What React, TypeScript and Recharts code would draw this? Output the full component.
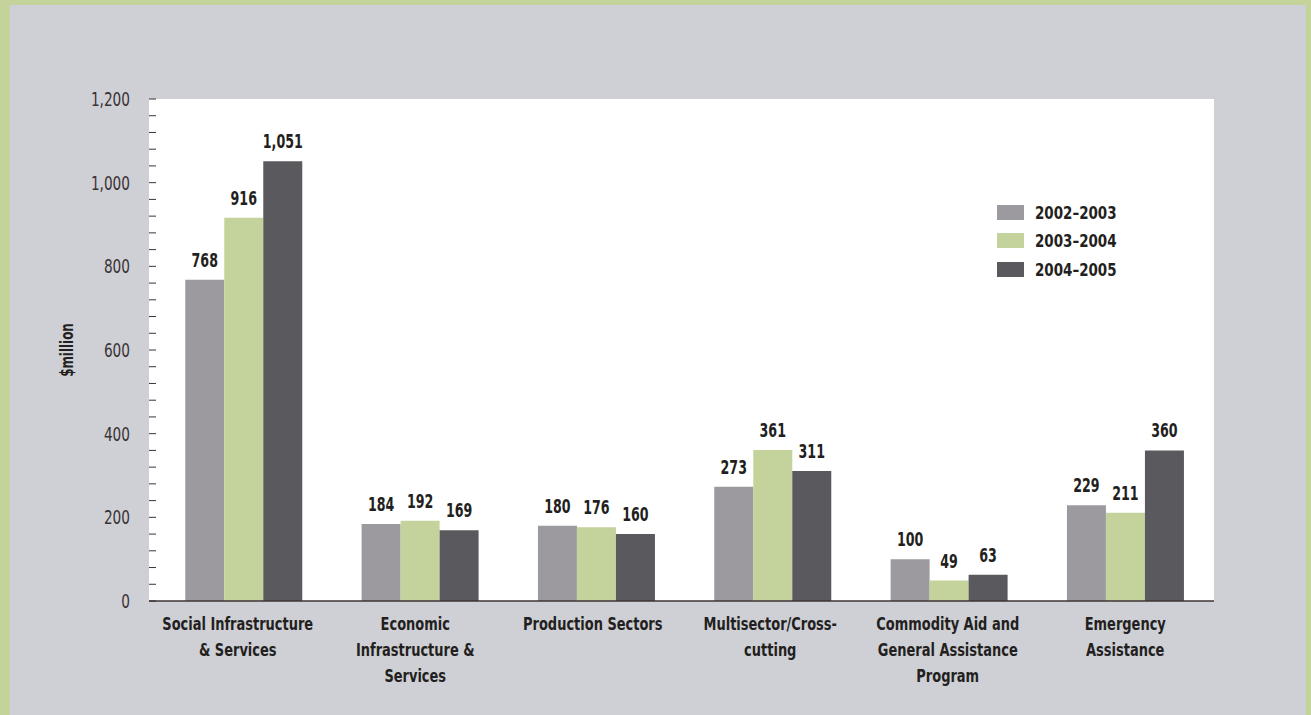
import { BarChart, Bar, XAxis, YAxis, CartesianGrid, Legend, LabelList } from "recharts"

const categories = [
  'Social Infrastructure\n& Services',
  'Economic\nInfrastructure &\nServices',
  'Production Sectors',
  'Multisector/Cross-\ncutting',
  'Commodity Aid and\nGeneral Assistance\nProgram',
  'Emergency\nAssistance',
]
const y2002 = [768, 184, 180, 273, 100, 229]
const y2003 = [916, 192, 176, 361, 49, 211]
const y2004 = [1051, 169, 160, 311, 63, 360]
const yTicks = [0, 40, 80, 120, 160, 200, 240, 280, 320, 360, 400, 440, 480, 520, 560, 600, 640, 680, 720, 760, 800, 840, 880, 920, 960, 1000, 1040, 1080, 1120, 1160, 1200]

const data = categories.map((name, i) => ({ name, a: y2002[i], b: y2003[i], c: y2004[i] }))

// no narrow font installed, so squeeze DejaVu Condensed horizontally
const FONT = '"Liberation Sans Narrow", "DejaVu Sans Condensed", sans-serif'
const SQ = 0.78
const TEXT = '#231f20'

const fmt = (v: number) => v.toLocaleString('en-US')

function YTick({ x, y, payload }: any) {
  const v = payload.value as number
  return (
    <g>
      <line x1={x} x2={x + 7} y1={y} y2={y} stroke="#3a3335" strokeWidth={1} />
      {v % 200 === 0 && (
        <g transform={`translate(${x - 19},${y}) scale(0.8,1)`}>
          <text x={0} y={0} dy="0.36em" textAnchor="end" fontSize={19} fill="#3a3335" fontFamily={FONT}>
            {fmt(v)}
          </text>
        </g>
      )}
    </g>
  )
}

function XTick({ x, y, payload }: any) {
  const lines = String(payload.value).split('\n')
  return (
    <g transform={`translate(${x},${y + 29}) scale(${SQ},1)`}>
      <text x={0} y={0} textAnchor="middle" fontSize={18.5} fontWeight="bold" fill={TEXT} fontFamily={FONT}>
        {lines.map((l, i) => (
          <tspan key={i} x={0} dy={i === 0 ? 0 : 26}>{l}</tspan>
        ))}
      </text>
    </g>
  )
}

function YLabel({ viewBox }: any) {
  const cx = viewBox.x + 18
  const cy = viewBox.y + viewBox.height / 2
  return (
    <g transform={`translate(${cx},${cy}) rotate(-90) scale(${SQ},1)`}>
      <text x={0} y={0} textAnchor="middle" dy="0.35em" fontSize={17} fontWeight="bold" fill={TEXT} fontFamily={FONT}>
        $million
      </text>
    </g>
  )
}

function BarValue({ x, y, width, value }: any) {
  return (
    <g transform={`translate(${x + width / 2},${y - 13}) scale(0.74,1)`}>
      <text x={0} y={0} textAnchor="middle" fontSize={19} fontWeight="bold" fill={TEXT} fontFamily={FONT}>
        {fmt(value)}
      </text>
    </g>
  )
}

function LegendBox({ payload }: any) {
  return (
    <div style={{ fontFamily: FONT }}>
      {(payload || []).map((p: any) => (
        <div key={p.value} style={{ display: 'flex', alignItems: 'center', height: 28.5 }}>
          <div style={{ width: 27, height: 15, background: p.color, marginRight: 11 }} />
          <span style={{ fontSize: 18, fontWeight: 'bold', color: TEXT, display: 'inline-block', transform: 'scale(0.83,1)', transformOrigin: 'left center', whiteSpace: 'nowrap' }}>{p.value}</span>
        </div>
      ))}
    </div>
  )
}

function App() {
  return (
    <div style={{ position: 'absolute', left: 0, top: 0, width: 1311, height: 715, background: '#cfd0d5' }}>
      <div style={{ position: 'absolute', left: 0, top: 0, width: 10, height: 715, background: '#c3d39a' }} />
      <div style={{ position: 'absolute', left: 0, top: 0, width: 1311, height: 5, background: '#c3d39a' }} />
      <div style={{ position: 'absolute', right: 0, top: 0, width: 5, height: 715, background: '#c3d39a' }} />
      <BarChart
        width={1311}
        height={715}
        data={data}
        margin={{ top: 99, right: 97, bottom: 14, left: 49 }}
        barCategoryGap="16.6%"
        barGap={0}
        style={{ position: 'absolute', left: 0, top: 0 }}
      >
        <CartesianGrid horizontal={false} vertical={false} fill="#ffffff" />
        <XAxis
          dataKey="name"
          height={100}
          tickLine={false}
          tickSize={0}
          tickMargin={0}
          tick={<XTick />}
          axisLine={{ stroke: '#3d3535', strokeWidth: 1.5 }}
          interval={0}
        />
        <XAxis xAxisId="bars" dataKey="name" hide padding={{ left: 7, right: 0 }} />
        <YAxis
          width={100}
          domain={[0, 1200]}
          ticks={yTicks}
          interval={0}
          tickLine={false}
          tickSize={0}
          tickMargin={0}
          axisLine={false}
          tick={<YTick />}
          label={{ content: <YLabel /> }}
        />
        <YAxis yAxisId="r" orientation="right" width={0} tick={false} tickLine={false} axisLine={{ stroke: '#a8b3c3' }} />
        <Legend
          layout="vertical"
          verticalAlign="middle"
          align="center"
          content={<LegendBox />}
          wrapperStyle={{ top: 198, left: 997, width: 'auto' }}
        />
        <Bar xAxisId="bars" dataKey="a" name="2002–2003" fill="#9c9a9f" isAnimationActive={false}>
          <LabelList dataKey="a" content={<BarValue />} />
        </Bar>
        <Bar xAxisId="bars" dataKey="b" name="2003–2004" fill="#c4d39b" isAnimationActive={false}>
          <LabelList dataKey="b" content={<BarValue />} />
        </Bar>
        <Bar xAxisId="bars" dataKey="c" name="2004–2005" fill="#5a595e" isAnimationActive={false}>
          <LabelList dataKey="c" content={<BarValue />} />
        </Bar>
      </BarChart>
    </div>
  )
}

export default App
